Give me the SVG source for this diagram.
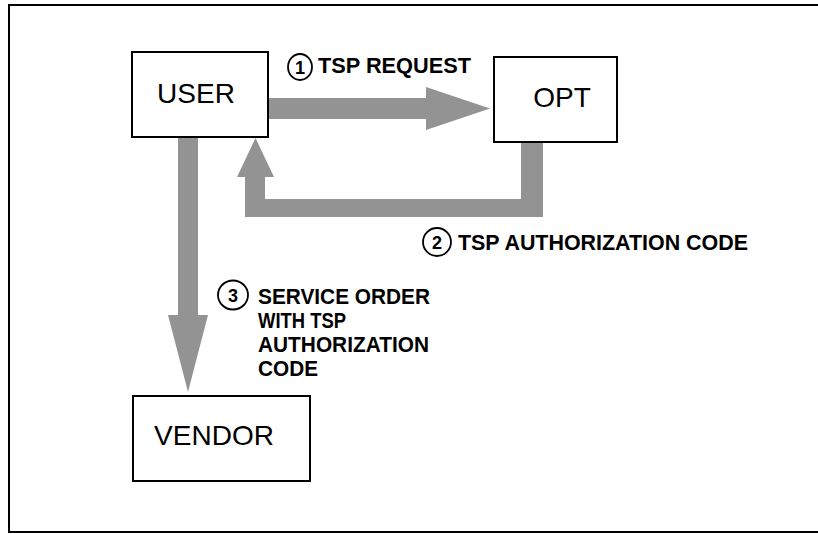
<svg xmlns="http://www.w3.org/2000/svg" width="818" height="534" viewBox="0 0 818 534">
<style>
.box{fill:#fff;stroke:#000;stroke-width:2}
.node{font-family:"Liberation Sans",Arial,sans-serif;font-size:28px;fill:#000;text-anchor:middle}
.lbl{font-family:"Liberation Sans",Arial,sans-serif;font-size:22px;font-weight:bold;fill:#000}
.num{font-family:"Liberation Sans",Arial,sans-serif;font-size:18px;font-weight:bold;fill:#000;text-anchor:middle}
.circ{fill:none;stroke:#000;stroke-width:1.8}
.arr{fill:#939393;stroke:none}
</style>
<rect x="0" y="0" width="818" height="534" fill="#fff"/>
<rect x="9" y="5" width="815" height="527" fill="none" stroke="#000" stroke-width="2"/>
<g id="connectors">
<polygon class="arr" points="268,98 426,98 426,87 490,108.5 426,130 426,119 268,119"/>
<polygon class="arr" points="521,142 543,142 543,217 245,217 245,177 237,177 255.5,138 274,177 265,177 265,199 521,199"/>
<polygon class="arr" points="178,137 198,137 198,315 208,315 188,392 168,315 178,315"/>
</g>
<g id="user">
<rect class="box" x="132" y="52" width="136" height="85"/>
<text class="node" x="196" y="103">USER</text>
</g>
<g id="opt">
<rect class="box" x="494" y="57" width="123" height="85"/>
<text class="node" x="562" y="107">OPT</text>
</g>
<g id="vendor">
<rect class="box" x="133" y="396" width="177" height="85"/>
<text class="node" x="214" y="445">VENDOR</text>
</g>
<g id="label1">
<ellipse class="circ" cx="300" cy="67" rx="12" ry="13"/>
<text class="num" x="300" y="73.5">1</text>
<text class="lbl" x="318" y="73" textLength="153" lengthAdjust="spacingAndGlyphs">TSP REQUEST</text>
</g>
<g id="label2">
<ellipse class="circ" cx="437" cy="242" rx="14" ry="14"/>
<text class="num" x="437" y="248.5">2</text>
<text class="lbl" x="458" y="250" textLength="290" lengthAdjust="spacingAndGlyphs">TSP AUTHORIZATION CODE</text>
</g>
<g id="label3">
<ellipse class="circ" cx="233" cy="295" rx="15" ry="14.5"/>
<text class="num" x="233" y="301.5">3</text>
<text class="lbl" x="258" y="304" textLength="172" lengthAdjust="spacingAndGlyphs">SERVICE ORDER</text>
<text class="lbl" x="258" y="328" textLength="88" lengthAdjust="spacingAndGlyphs">WITH TSP</text>
<text class="lbl" x="258" y="352" textLength="171" lengthAdjust="spacingAndGlyphs">AUTHORIZATION</text>
<text class="lbl" x="258" y="376" textLength="60" lengthAdjust="spacingAndGlyphs">CODE</text>
</g>
</svg>
